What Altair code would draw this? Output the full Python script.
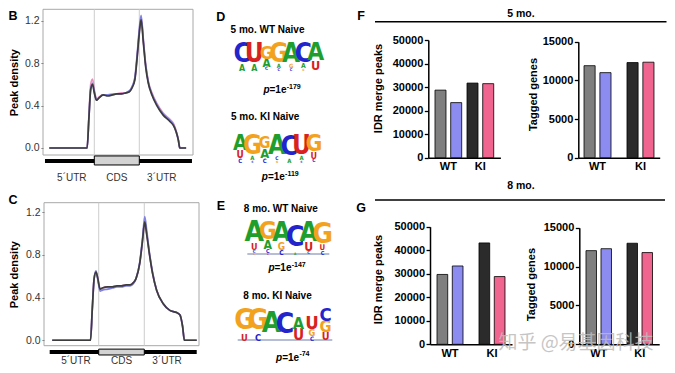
import altair as alt
import pandas as pd

W, H = 659, 357
M = 8
FONT = "Liberation Sans"
LOGO_FONT = "Liberation Sans Narrow, DejaVu Sans Condensed, Liberation Sans"
CJK = "Noto Sans CJK SC"


def P(v):
    return v - M


ONE = pd.DataFrame({"k": [0]})

# ---------------- metagene profiles (B: 5 mo., C: 8 mo.) ----------------
SERIES = ["pink", "blue", "dark"]
SERIES_COLORS = {"pink": "#e88fbc", "blue": "#8282de", "dark": "#3c3c3c"}
REGIONS = ["5´UTR", "CDS", "3´UTR"]
REGION_MID = [0.5, 1.5, 2.5]
BOUNDS = [1, 2]

b_pos = [0.00, 0.84, 0.88, 0.92, 0.96, 1.00, 1.05, 1.10, 1.20, 1.30, 1.40, 1.50, 1.60, 1.70, 1.78, 1.83,
         1.90, 1.96, 2.00, 2.04, 2.09, 2.14, 2.20, 2.28, 2.39, 2.53, 2.68, 2.76, 2.82, 2.87, 2.90, 3.04]
b_dark = [0.00, 0.00, 0.28, 0.55, 0.60, 0.52, 0.45, 0.47, 0.50, 0.49, 0.50, 0.51, 0.51, 0.52, 0.53, 0.56,
          0.64, 0.89, 1.08, 1.21, 0.99, 0.77, 0.61, 0.50, 0.40, 0.31, 0.25, 0.21, 0.15, 0.07, 0.00, 0.00]
b_pink = [0.00, 0.00, 0.30, 0.60, 0.65, 0.55, 0.46, 0.48, 0.50, 0.50, 0.51, 0.51, 0.52, 0.52, 0.53, 0.57,
          0.65, 0.90, 1.10, 1.23, 1.01, 0.79, 0.63, 0.52, 0.42, 0.33, 0.27, 0.23, 0.16, 0.07, 0.00, 0.00]
b_blue = [0.00, 0.00, 0.28, 0.56, 0.61, 0.53, 0.45, 0.47, 0.50, 0.50, 0.50, 0.51, 0.51, 0.52, 0.54, 0.57,
          0.66, 0.92, 1.12, 1.25, 1.02, 0.79, 0.62, 0.51, 0.41, 0.32, 0.26, 0.22, 0.15, 0.07, 0.00, 0.00]

c_pos = [-0.02, 0.82, 0.86, 0.90, 0.94, 0.98, 1.03, 1.08, 1.20, 1.30, 1.40, 1.50, 1.60, 1.69, 1.76, 1.82,
         1.90, 1.96, 2.01, 2.05, 2.11, 2.18, 2.27, 2.42, 2.56, 2.71, 2.78, 2.84, 2.88, 3.15]
c_dark = [0.00, 0.00, 0.30, 0.58, 0.64, 0.58, 0.48, 0.49, 0.50, 0.50, 0.51, 0.51, 0.52, 0.52, 0.54, 0.58,
          0.72, 0.93, 1.11, 1.00, 0.815, 0.63, 0.47, 0.34, 0.28, 0.26, 0.24, 0.13, 0.00, 0.00]
c_pink = [0.00, 0.00, 0.30, 0.58, 0.64, 0.58, 0.48, 0.49, 0.50, 0.50, 0.51, 0.51, 0.52, 0.52, 0.54, 0.58,
          0.72, 0.93, 1.12, 1.01, 0.82, 0.63, 0.47, 0.34, 0.28, 0.26, 0.24, 0.13, 0.00, 0.00]
c_blue = [0.00, 0.00, 0.30, 0.58, 0.65, 0.57, 0.46, 0.47, 0.48, 0.49, 0.50, 0.50, 0.51, 0.51, 0.53, 0.58,
          0.73, 0.95, 1.16, 1.04, 0.83, 0.64, 0.47, 0.34, 0.28, 0.26, 0.24, 0.13, 0.00, 0.00]

# ---------------- sequence logos (letters top -> bottom, heights in bits) ----------------
LETTERS = ["A", "C", "G", "U"]
LETTER_COLORS = ["#1f9e2e", "#2424cc", "#f2a21c", "#d82222"]

logo_5wt = [
    [("C", 1.48), ("A", 0.45)],
    [("U", 1.48), ("A", 0.45)],
    [("G", 0.95), ("A", 0.60), ("C", 0.24)],
    [("G", 1.50), ("A", 0.30), ("C", 0.20)],
    [("A", 1.40), ("G", 0.30), ("C", 0.20)],
    [("C", 1.40), ("A", 0.35), ("G", 0.15)],
    [("A", 1.25), ("U", 0.65)],
]
logo_5ki = [
    [("A", 1.05), ("U", 0.50), ("C", 0.30)],
    [("G", 1.50), ("A", 0.30), ("C", 0.15)],
    [("G", 0.80), ("A", 0.65), ("C", 0.30)],
    [("A", 1.55), ("C", 0.25), ("G", 0.15)],
    [("C", 1.60), ("A", 0.30)],
    [("U", 1.45), ("A", 0.30), ("C", 0.15)],
    [("G", 1.15), ("U", 0.45), ("C", 0.25)],
]
logo_8wt = [
    [("A", 1.30), ("U", 0.40), ("C", 0.20), ("G", 0.10)],
    [("G", 1.10), ("A", 0.55), ("C", 0.25), ("U", 0.10)],
    [("A", 1.20), ("G", 0.45), ("C", 0.30)],
    [("C", 1.80), ("A", 0.15)],
    [("A", 1.20), ("U", 0.55), ("C", 0.20)],
    [("G", 1.35), ("U", 0.35), ("C", 0.25)],
]
logo_8ki = [
    [("G", 1.52), ("U", 0.38)],
    [("G", 1.52), ("C", 0.38)],
    [("A", 1.96)],
    [("C", 1.87)],
    [("A", 0.67), ("U", 0.63)],
    [("U", 0.76), ("G", 0.38), ("C", 0.25)],
    [("C", 0.76), ("G", 0.67), ("U", 0.44)],
]

# ---------------- bar charts ----------------
GENOTYPES = ["WT", "KI"]
BAR_GENOTYPE = ["WT", "WT", "KI", "KI"]
BAR_REP = ["r1", "r2", "r1", "r2"]
BAR_SAMPLE = ["WT-r1", "WT-r2", "KI-r1", "KI-r2"]
BAR_COLORS = ["#7f7f7f", "#8b8bf0", "#2b2b2b", "#ef6590"]

peaks_5mo = [28700, 23400, 31700, 31450]
genes_5mo = [11900, 11000, 12300, 12350]
peaks_8mo = [29700, 33300, 43100, 28800]
genes_8mo = [12050, 12300, 13000, 11800]


# ---------------- helpers ----------------
def label(text, x, y, size=10, weight="bold", align="center", baseline="middle",
          color="black", font=FONT, style="normal", opacity=1.0):
    return alt.Chart(ONE).mark_text(
        text=text, fontSize=size, fontWeight=weight, align=align, baseline=baseline,
        color=color, font=font, fontStyle=style, opacity=opacity,
    ).encode(x=alt.value(P(x)), y=alt.value(P(y)))


def hline(x1, x2, y, width=1.5):
    return alt.Chart(ONE).mark_rule(color="black", strokeWidth=width).encode(
        x=alt.value(P(x1)), x2=alt.value(P(x2)), y=alt.value(P(y)))


def pvalue(x_left, y, exponent):
    xp = x_left + 6.2
    return [
        label("p", xp, y, size=10, align="right", style="italic"),
        label("=1e", xp, y, size=10, align="left"),
        label(exponent, xp + 17.2, y - 3.5, size=7, align="left"),
    ]


def profile(pos, vals, xdom, xrng, ydom, yrng, axis_x, title_x, gene_span, gene_y, box_y, label_y):
    def xs():
        return alt.Scale(domain=xdom, range=[P(xrng[0]), P(xrng[1])], nice=False, zero=False)

    def ys():
        return alt.Scale(domain=ydom, range=[P(yrng[0]), P(yrng[1])], nice=False, zero=False)

    df = pd.concat([pd.DataFrame({"pos": pos, "value": vals[s], "series": s}) for s in SERIES])
    bounds = pd.DataFrame({"b": BOUNDS})
    regions = pd.DataFrame({"region": REGIONS, "mid": REGION_MID})
    out = [
        alt.Chart(ONE).mark_rect(fillOpacity=0, stroke="#a8a8a8", strokeWidth=1).encode(
            x=alt.XDatum(xdom[0], scale=xs(), axis=None), x2=alt.X2Datum(xdom[1]),
            y=alt.YDatum(ydom[0], scale=ys(), axis=None), y2=alt.Y2Datum(ydom[1])),
        alt.Chart(bounds).mark_rule(color="#cdcdcd", strokeWidth=1).encode(
            x=alt.X("b:Q", scale=xs(), axis=None),
            y=alt.YDatum(ydom[0], scale=ys(), axis=None), y2=alt.Y2Datum(ydom[1])),
        alt.Chart(ONE).mark_rule(color="black", strokeWidth=4).encode(
            x=alt.XDatum(gene_span[0], scale=xs(), axis=None), x2=alt.X2Datum(gene_span[1]),
            y=alt.YDatum(gene_y, scale=ys(), axis=None)),
        alt.Chart(ONE).mark_rect(fill="#d3d3d3", stroke="black", strokeWidth=1).encode(
            x=alt.XDatum(1, scale=xs(), axis=None), x2=alt.X2Datum(2),
            y=alt.YDatum(box_y[0], scale=ys(), axis=None), y2=alt.Y2Datum(box_y[1])),
        alt.Chart(regions).mark_text(fontSize=10, color="#333333", font=FONT).encode(
            x=alt.X("mid:Q", scale=xs(), axis=None), y=alt.YDatum(label_y, scale=ys(), axis=None),
            text="region:N"),
    ]
    for s in SERIES:
        if s == "dark":
            yax = alt.Axis(orient="left", offset=-P(axis_x), values=[0, 0.4, 0.8, 1.2], format=".1f",
                           title="Peak density", titleX=title_x - axis_x, titleBaseline="middle",
                           titleFontSize=11, titleFontWeight="bold", titleColor="black",
                           domain=False, tickSize=2, tickColor="#666666", labelFontSize=10.5,
                           labelColor="#333333", labelPadding=2, grid=False)
        else:
            yax = None
        out.append(
            alt.Chart(df).transform_filter(alt.datum.series == s)
            .mark_line(color=SERIES_COLORS[s], strokeWidth=1.7, interpolate="monotone")
            .encode(x=alt.X("pos:Q", scale=xs(), axis=None), y=alt.Y("value:Q", scale=ys(), axis=yax))
        )
    return out


def logo(columns, x_left, x_right, base, ppb, fcap, underline=False):
    rows = []
    for i, col in enumerate(columns, start=1):
        b = 0.0
        for letter, h in reversed(col):
            rows.append({"pos": i, "letter": letter, "bits": h, "mid": b + h / 2})
            b += h
    df = pd.DataFrame(rows)
    n = len(columns)

    def xs():
        return alt.Scale(domain=[0.5, n + 0.5], range=[P(x_left), P(x_right)], nice=False, zero=False)

    def ys():
        return alt.Scale(domain=[0, 2], range=[P(base), P(base) - 2 * ppb], nice=False, zero=False)

    hcap = fcap * 0.72 / ppb
    ss = alt.Scale(type="linear", domain=[0, hcap, 2], range=[0, fcap, fcap])
    out = []
    if underline:
        out.append(alt.Chart(ONE).mark_rule(color="#6f7fae", strokeWidth=1.2).encode(
            x=alt.XDatum(0.5, scale=xs(), axis=None), x2=alt.X2Datum(n + 0.5),
            y=alt.YDatum(0, scale=ys(), axis=None)))
    out.append(alt.Chart(df).mark_text(font=LOGO_FONT, fontWeight="bold", baseline="middle",
                                       align="center", dy=1).encode(
        x=alt.X("pos:Q", scale=xs(), axis=None),
        y=alt.Y("mid:Q", scale=ys(), axis=None),
        size=alt.Size("bits:Q", scale=ss, legend=None),
        color=alt.Color("letter:N", scale=alt.Scale(domain=LETTERS, range=LETTER_COLORS), legend=None),
        text="letter:N",
    ))
    return out


def bars(values, ymax, ticks, title, axis_x, axis_y, top_y, band_end, pi, po, title_cx, title_cy):
    df = pd.DataFrame({"genotype": BAR_GENOTYPE, "rep": BAR_REP, "sample": BAR_SAMPLE, "value": values})
    return alt.Chart(df).mark_bar(stroke="black", strokeWidth=0.8).encode(
        x=alt.X("genotype:N", sort=GENOTYPES,
                scale=alt.Scale(domain=GENOTYPES, range=[P(axis_x), P(band_end)],
                                paddingInner=pi, paddingOuter=po),
                axis=alt.Axis(orient="bottom", offset=P(axis_y) - H, title=None, labelAngle=0,
                              ticks=False, domainColor="black", domainWidth=1.5, labelFontSize=11,
                              labelFontWeight="bold", labelColor="black", labelPadding=3)),
        xOffset=alt.XOffset("rep:N", scale=alt.Scale(domain=["r1", "r2"], paddingInner=0.3, paddingOuter=0)),
        y=alt.Y("value:Q",
                scale=alt.Scale(domain=[0, ymax], range=[P(axis_y), P(top_y)], nice=False),
                axis=alt.Axis(orient="left", offset=-P(axis_x), values=ticks, format="d", title=title,
                              titleX=title_cx - axis_x, titleY=P(title_cy), titleBaseline="middle",
                              titleFontSize=11, titleFontWeight="bold", titleColor="black",
                              domainColor="black", domainWidth=1.5, tickColor="black", tickWidth=1.3,
                              tickSize=4, labelFontSize=11, labelFontWeight="bold", labelColor="black",
                              labelPadding=1.5, grid=False)),
        color=alt.Color("sample:N", scale=alt.Scale(domain=BAR_SAMPLE, range=BAR_COLORS), legend=None),
    )


# ---------------- assemble ----------------
layers = []

# B and C
layers += profile(b_pos, {"dark": b_dark, "pink": b_pink, "blue": b_blue},
                  xdom=[-0.14, 3.193], xrng=[43, 193], ydom=[-0.066, 1.307], yrng=[155, 9.3],
                  axis_x=43, title_x=14, gene_span=[-0.096, 3.17], gene_y=-0.1225,
                  box_y=[-0.075, -0.16], label_y=-0.283)
layers += profile(c_pos, {"dark": c_dark, "pink": c_pink, "blue": c_blue},
                  xdom=[-0.2, 3.2], xrng=[44, 199], ydom=[-0.051, 1.29], yrng=[345.7, 202.7],
                  axis_x=44, title_x=14, gene_span=[-0.075, 3.15], gene_y=-0.11,
                  box_y=[-0.083, -0.138], label_y=-0.197)

# D and E logos
layers += logo(logo_5wt, 236, 321.7, 70, 14.0, 26)
layers += logo(logo_5ki, 234, 320, 161.7, 14.3, 26)
layers += logo(logo_8wt, 247.3, 329.3, 254, 16.0, 28, underline=True)
layers += logo(logo_8ki, 237.7, 332.3, 340, 17.5, 28, underline=True)

# F and G bars
layers.append(bars(peaks_5mo, 50000, [0, 10000, 20000, 30000, 40000, 50000], "IDR merge peaks",
                   428.3, 157.7, 40, 500.4, 0.166, 0.209, 378.3, 88))
layers.append(bars(genes_5mo, 15000, [0, 5000, 10000, 15000], "Tagged genes",
                   578.3, 157.7, 41.7, 659.7, 0.372, 0.133, 533.3, 94))
layers.append(bars(peaks_8mo, 50000, [0, 10000, 20000, 30000, 40000, 50000], "IDR merge peaks",
                   430, 344.3, 226.7, 512, 0.381, 0.167, 378.3, 279))
layers.append(bars(genes_8mo, 15000, [0, 5000, 10000, 15000], "Tagged genes",
                   579.3, 344.3, 227.7, 659.2, 0.378, 0.163, 531.7, 284))

# header lines
layers.append(hline(375, 666.5, 21.7))
layers.append(hline(375, 665, 200))

# texts
layers += [
    label("B", 13, 15.5, size=12.5),
    label("C", 13, 200, size=12.5),
    label("D", 220.8, 17, size=12.5),
    label("E", 220.8, 206, size=12.5),
    label("F", 361, 15.5, size=12.5),
    label("G", 361, 207.5, size=12.5),
    label("5 mo. WT Naive", 267.5, 29.7, size=10),
    label("5 mo. KI Naive", 265.2, 117, size=10),
    label("8 mo. WT Naive", 280.8, 209, size=10),
    label("8 mo. KI Naive", 277.5, 295.5, size=10),
    label("5 mo.", 521, 13.7, size=10.5),
    label("8 mo.", 521, 185.7, size=10.5),
]
layers += pvalue(263.3, 90, "-179")
layers += pvalue(261.7, 177, "-119")
layers += pvalue(268.3, 268, "-147")
layers += pvalue(276, 357.5, "-74")

# watermark
layers.append(label("知乎 @易基因科技", 576, 343, size=19, weight="normal", color="#bcbcbc",
                    font=CJK, opacity=0.85))

chart = (
    alt.layer(*layers)
    .resolve_scale(x="independent", y="independent", color="independent",
                   size="independent", xOffset="independent")
    .resolve_axis(x="independent", y="independent")
    .properties(width=W, height=H, padding=0, autosize=alt.AutoSizeParams(type="none"))
    .configure_view(stroke=None)
    .configure_axis(grid=False, labelFont=FONT, titleFont=FONT)
    .configure_text(font=FONT)
)

chart.save("out.html", embed_options={"renderer": "svg", "actions": False})
